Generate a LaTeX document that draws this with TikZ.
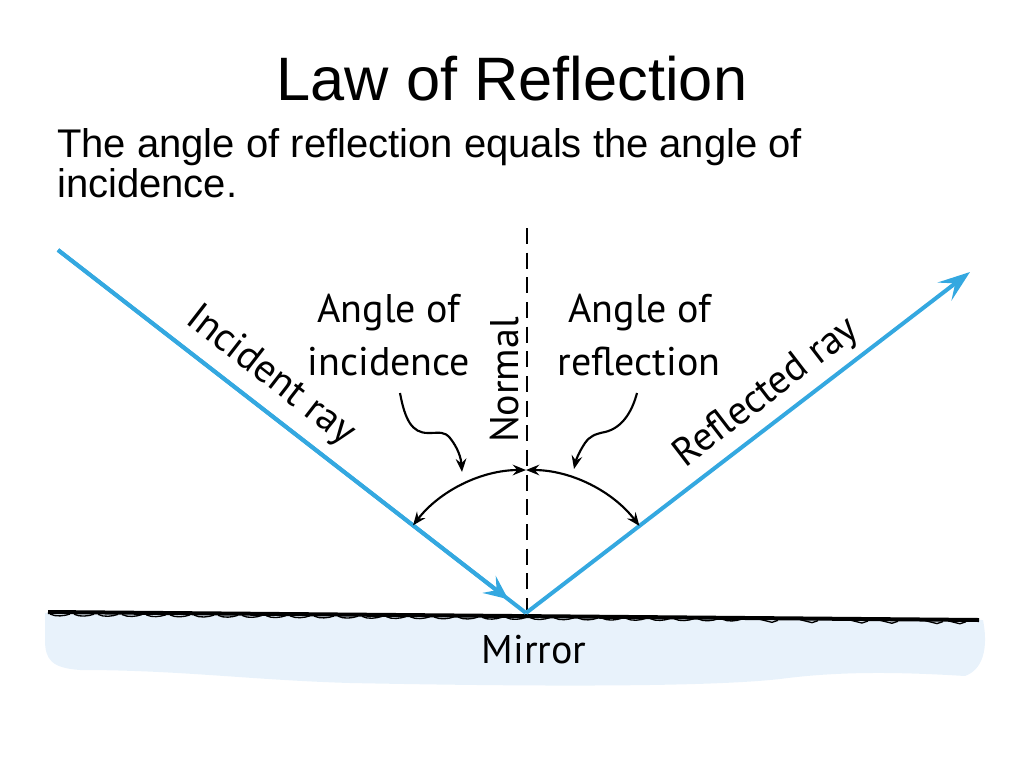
\documentclass[tikz,border=0pt]{standalone}
\usepackage{fontspec}
\setmainfont{Liberation Sans}
\newfontfamily\labfont{PT Sans}
\usetikzlibrary{arrows.meta,calc}
\definecolor{raycol}{RGB}{52,168,224}
\definecolor{mirrorblue}{RGB}{232,242,251}
\tikzset{
  ray/.style={draw=raycol,line width=3pt},
  lab/.style={font=\labfont\fontsize{30}{36}\selectfont,inner sep=0pt},
  titlefont/.style={font=\fontsize{46}{52}\selectfont,inner sep=0pt},
  subfont/.style={font=\fontsize{30}{36}\selectfont,inner sep=0pt},
  anglearc/.style={line width=1.6pt,{Stealth[length=10pt,width=8pt,inset=3.5pt]}-{Stealth[length=10pt,width=8pt,inset=3.5pt]}},
  pointer/.style={line width=1.6pt,-{Stealth[length=10pt,width=8pt,inset=3.5pt]}},
  normalline/.style={line width=1.8pt,dash pattern=on 12pt off 6.5pt},
  mirrorline/.style={line width=3pt},
  scallop/.style={line width=1pt},
}
\begin{document}
\begin{tikzpicture}[x=0.75pt,y=-0.75pt]
\useasboundingbox (0,0) rectangle (1024,768);
% texts
\node[titlefont,anchor=base] (title) at (512,100) {Law of Reflection};
\node[subfont,anchor=base west] (sub1) at (57,157) {The angle of reflection equals the angle of};
\node[subfont,anchor=base west] (sub2) at (57,197) {incidence.};
% mirror
\fill[mirrorblue] (45,613) -- (983,620) .. controls (987,640) and (987,668) .. (965,676)
  .. controls (900,672) and (840,671) .. (780,679) .. controls (700,688) and (500,686) .. (350,683)
  .. controls (250,680) and (180,670) .. (80,670) .. controls (52,668) and (45,660) .. (45,640) -- cycle;
\coordinate (ML) at (48,612);
\coordinate (MR) at (979,620);
\draw[mirrorline] (ML) -- (MR);
\foreach \x in {50,74,...,740} {
  \draw[scallop] (\x,{614+(\x-48)*0.0075}) .. controls (\x+6,{617+(\x-48)*0.0075}) and (\x+14,{616+(\x-48)*0.0075}) .. (\x+20,{614+(\x-48)*0.0075});
}
\foreach \x in {760,800,850,880,925,948} {
  \draw[scallop] (\x,{614+(\x-48)*0.0075}) -- (\x+12,{617+(\x-48)*0.0075}) -- (\x+18,{615+(\x-48)*0.0075});
}
\node[lab,anchor=base] (mirror) at (534,663) {Mirror};
% normal
\coordinate (NT) at (527,228);
\coordinate (NB) at (527,610);
\draw[normalline] (NT) -- (NB);
\node[lab,anchor=base,rotate=90] (normal) at (518,380) {Normal};
% rays
\coordinate (V) at (526,613);
\coordinate (IS) at (58,250);
\coordinate (RE) at (970,272);
\draw[ray] (IS) -- (V);
\draw[ray,-{Stealth[length=18pt,width=16pt,inset=7pt]}] (IS) -- ($(IS)!0.962!(V)$);
\draw[ray,-{Stealth[length=24pt,width=17pt,inset=10pt]}] (V) -- (RE);
\node[lab,anchor=base,rotate=-37.8] (inclab) at (264,384) {Incident ray};
\node[lab,anchor=base,rotate=37.5] (reflab) at (773,401) {Reflected ray};
% angle arcs
\draw[anglearc] ($(V)+(217.8:143)$) arc[start angle=217.8,end angle=270,radius=143];
\draw[anglearc] ($(V)+(322.5:143)$) arc[start angle=322.5,end angle=270,radius=143];
% angle labels
\node[lab,anchor=base] (ai1) at (389,322) {Angle of};
\node[lab,anchor=base] (ai2) at (389,375) {incidence};
\node[lab,anchor=base] (ar1) at (640,322) {Angle of};
\node[lab,anchor=base] (ar2) at (639,375) {reflection};
% pointers
\coordinate (s1) at (400,393);
\coordinate (t1) at (462,472);
\coordinate (s2) at (637,393);
\coordinate (t2) at (574,469);
\draw[pointer] (s1) .. controls (405,420) and (412,433) .. (428,433)
  .. controls (440,433) and (444,431) .. (450,438) .. controls (458,448) and (461,458) .. (t1);
\draw[pointer] (s2) .. controls (632,412) and (622,428) .. (605,432)
  .. controls (595,434) and (590,436) .. (585,443) .. controls (579,452) and (576,460) .. (t2);
\end{tikzpicture}
\end{document}
